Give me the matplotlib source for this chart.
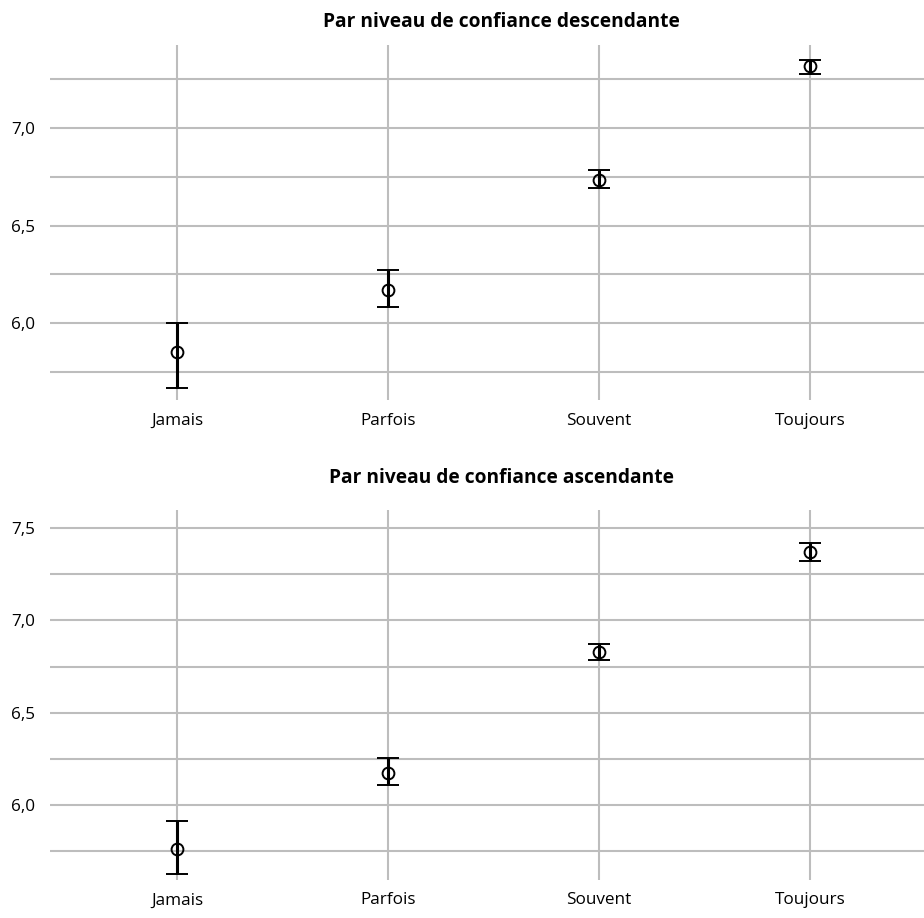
import matplotlib.pyplot as plt
from matplotlib.ticker import FixedLocator, FuncFormatter

plt.rcParams['font.family'] = ['Open Sans', 'DejaVu Sans']

categories = ["Jamais", "Parfois", "Souvent", "Toujours"]

# top panel: mean with lower/upper bounds
desc_mean = [5.85, 6.17, 6.735, 7.318]
desc_low = [5.667, 6.082, 6.692, 7.277]
desc_high = [6.0, 6.272, 6.785, 7.349]

# bottom panel
asc_mean = [5.762, 6.173, 6.829, 7.37]
asc_low = [5.626, 6.108, 6.785, 7.321]
asc_high = [5.913, 6.255, 6.872, 7.419]

titles = ["Par niveau de confiance descendante", "Par niveau de confiance ascendante"]
major_ticks = [[6.0, 6.5, 7.0], [6.0, 6.5, 7.0, 7.5]]
minor_ticks = [[5.75, 6.25, 6.75, 7.25], [5.75, 6.25, 6.75, 7.25]]
ylims = [(5.605, 7.426), (5.594, 7.598)]

W, H = 924, 918
fig = plt.figure(figsize=(W / 100, H / 100), dpi=100)
boxes = [(50, 45, 400), (50, 510, 880)]  # left, top, bottom in px
title_y = [22, 478]

panels = [(desc_mean, desc_low, desc_high), (asc_mean, asc_low, asc_high)]
grid_col = '#bdbdbd'

for i, (mean, low, high) in enumerate(panels):
    l, t, b = boxes[i]
    ax = fig.add_axes([l / W, 1 - b / H, (W - l) / W, (b - t) / H])
    x = list(range(len(categories)))
    yerr = [[m - lo for m, lo in zip(mean, low)], [hi - m for m, hi in zip(mean, high)]]
    ax.errorbar(x, mean, yerr=yerr, fmt='o', color='black', ecolor='black',
                elinewidth=2.2, capsize=8, capthick=2.2, markersize=8.5,
                markerfacecolor='none', markeredgewidth=1.4, zorder=3)
    ax.set_xlim(-0.602, 3.54)
    ax.set_ylim(*ylims[i])
    ax.yaxis.set_major_locator(FixedLocator(major_ticks[i]))
    ax.yaxis.set_minor_locator(FixedLocator(minor_ticks[i]))
    ax.yaxis.set_major_formatter(FuncFormatter(lambda v, p: f"{v:.1f}".replace('.', ',')))
    ax.set_xticks(x)
    ax.set_xticklabels(categories)
    ax.grid(True, which='major', color=grid_col, linewidth=1.5)
    ax.grid(True, which='minor', axis='y', color=grid_col, linewidth=1.5)
    ax.set_axisbelow(True)
    for s in ax.spines.values():
        s.set_visible(False)
    ax.tick_params(axis='both', which='both', length=0, labelsize=12.3, colors='black')
    ax.tick_params(axis='y', pad=11)
    ax.tick_params(axis='x', pad=9)
    fig.text(501 / W, 1 - title_y[i] / H, titles[i], ha='center', va='center',
             fontsize=13.8, fontweight='bold')

fig.savefig('out.png', dpi=100)
